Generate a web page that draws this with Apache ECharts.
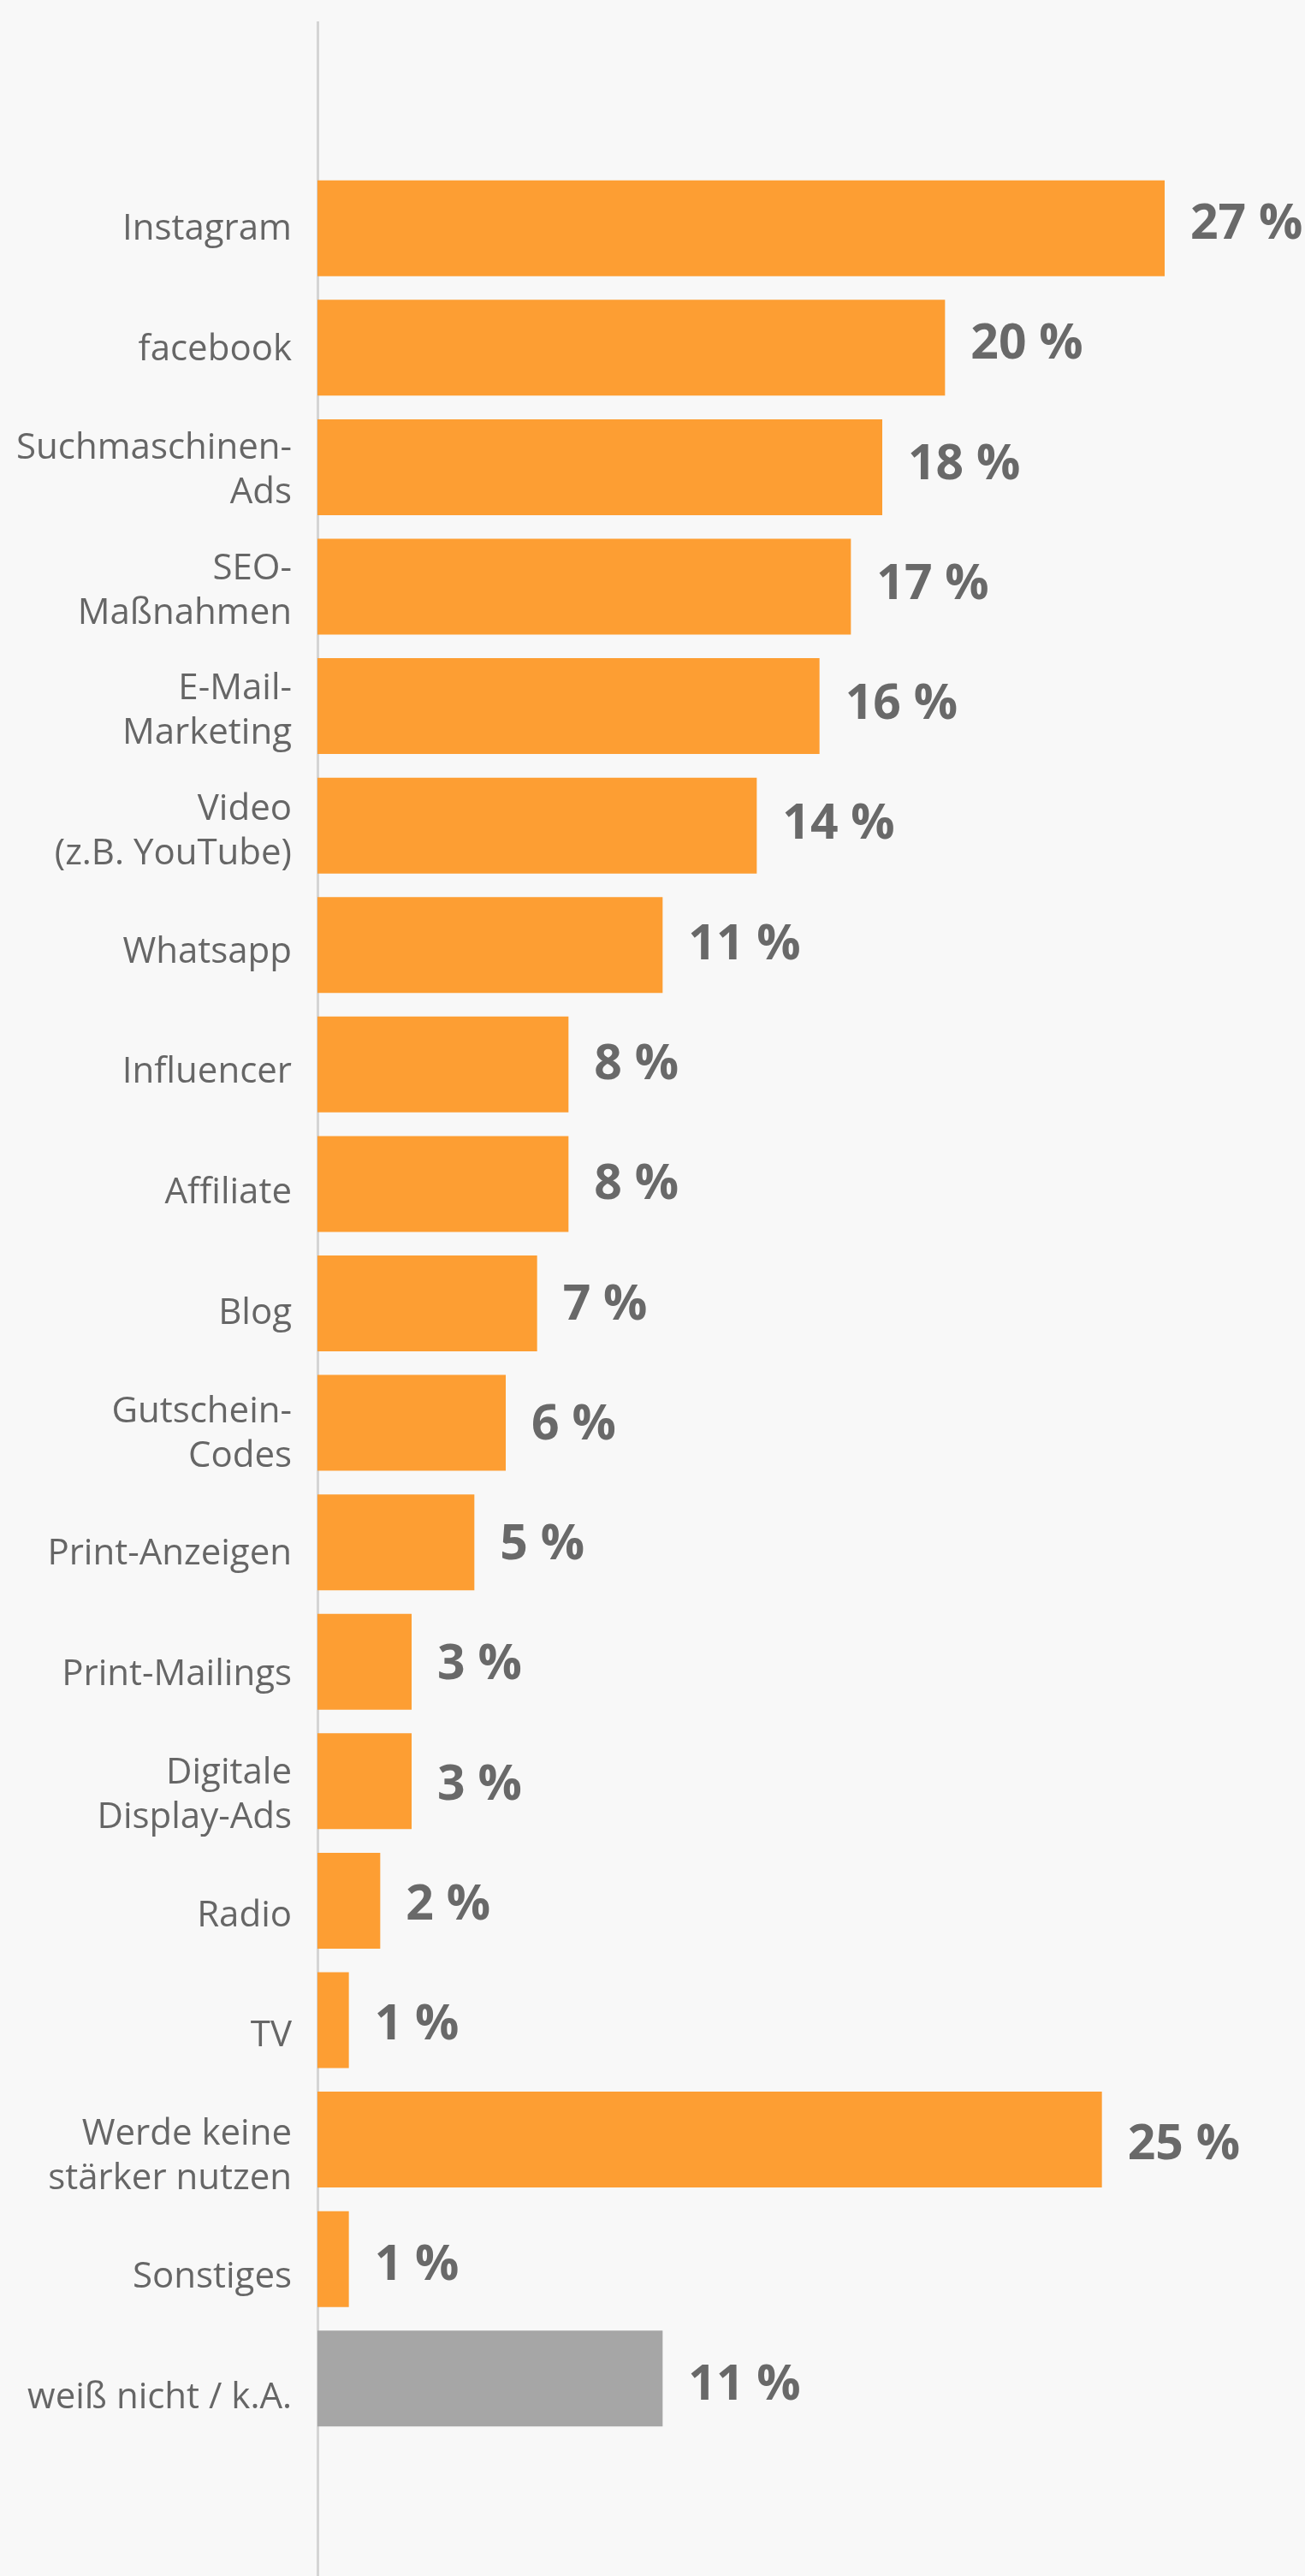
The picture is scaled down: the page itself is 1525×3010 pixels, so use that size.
<!DOCTYPE html>
<html>
<head>
<meta charset="utf-8">
<script src="https://cdn.jsdelivr.net/npm/echarts@6/dist/echarts.min.js"></script>
<style>
html,body{margin:0;padding:0;background:#f8f8f8;}
#chart{width:1525px;height:3010px;}
</style>
</head>
<body>
<div id="chart"></div>
<script>
const categories = [
  "Instagram", "facebook", "Suchmaschinen-\nAds", "SEO-\nMaßnahmen", "E-Mail-\nMarketing",
  "Video\n(z.B. YouTube)", "Whatsapp", "Influencer", "Affiliate", "Blog",
  "Gutschein-\nCodes", "Print-Anzeigen", "Print-Mailings", "Digitale\nDisplay-Ads", "Radio",
  "TV", "Werde keine\nstärker nutzen", "Sonstiges", "weiß nicht / k.A."
];
const values = [27, 20, 18, 17, 16, 14, 11, 8, 8, 7, 6, 5, 3, 3, 2, 1, 25, 1, 11];
const grayCategories = ["weiß nicht / k.A."];

const ORANGE = '#fd9e33';
const GRAY = '#a6a6a6';
const n = categories.length;

const chart = echarts.init(document.getElementById('chart'), null, {renderer: 'canvas'});
chart.setOption({
  backgroundColor: '#f8f8f8',
  animation: false,
  grid: [
    {left: 371, top: 197, width: 1100, height: 2652, containLabel: false},
    {left: 371, top: 198, width: 1100, height: 2674, containLabel: false}
  ],
  xAxis: [
    {type: 'value', gridIndex: 0, min: 0, max: 30, show: false},
    {type: 'value', gridIndex: 1, min: 0, max: 30, show: false}
  ],
  yAxis: [
    {
      type: 'category', gridIndex: 0, data: categories, inverse: true,
      axisLine: {show: false}, axisTick: {show: false}, axisLabel: {show: false}
    },
    {
      type: 'category', gridIndex: 1, data: categories, inverse: true,
      axisLine: {show: false}, axisTick: {show: false},
      axisLabel: {
        margin: 30, fontFamily: 'Open Sans', fontSize: 42, color: '#666666',
        lineHeight: 52, align: 'right'
      }
    }
  ],
  graphic: [{
    type: 'line', z: 0,
    shape: {x1: 371.5, y1: 25, x2: 371.5, y2: 3010},
    style: {stroke: '#d4d4d4', lineWidth: 3}
  }],
  series: [{
    type: 'bar', z: 2, xAxisIndex: 0, yAxisIndex: 0,
    barWidth: 112,
    data: values.map((v, i) => ({
      value: v,
      itemStyle: {color: grayCategories.includes(categories[i]) ? GRAY : ORANGE},
      label: {offset: [0, -4 + 0.7 * i]}
    })),
    label: {
      show: true, position: 'right', distance: 30,
      formatter: p => p.value + ' %',
      fontFamily: 'Open Sans', fontWeight: 'bold', fontSize: 57, color: '#696969'
    }
  }]
});
</script>
</body>
</html>
